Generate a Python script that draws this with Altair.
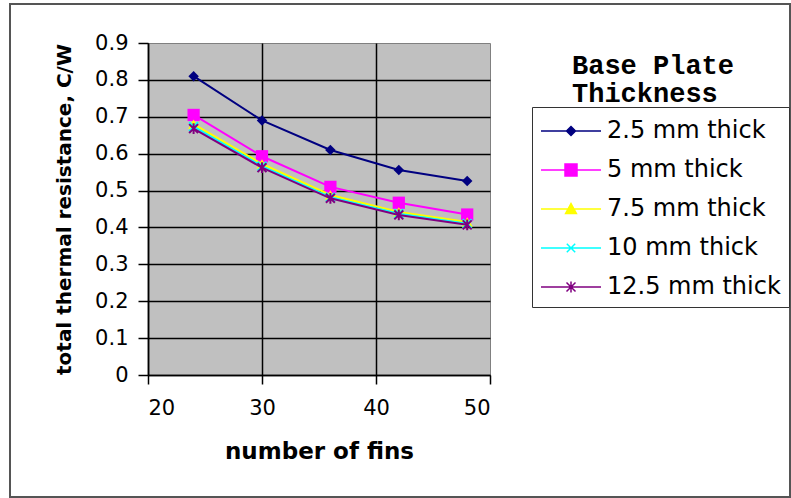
import altair as alt
import pandas as pd

# ---- data ----
fins = [24, 30, 36, 42, 48]
series_names = ["2.5 mm thick", "5 mm thick", "7.5 mm thick", "10 mm thick", "12.5 mm thick"]
r_2_5 = [0.81, 0.69, 0.61, 0.556, 0.526]
r_5 = [0.705, 0.593, 0.51, 0.467, 0.435]
r_7_5 = [0.68, 0.572, 0.488, 0.442, 0.415]
r_10 = [0.673, 0.566, 0.482, 0.437, 0.41]
r_12_5 = [0.668, 0.562, 0.479, 0.434, 0.407]
x_ticks = [20, 30, 40, 50]
y_ticks = [0, 0.1, 0.2, 0.3, 0.4, 0.5, 0.6, 0.7, 0.8, 0.9]

colors = ["#000080", "#FF00FF", "#FFFF00", "#00FFFF", "#800080"]

rows = []
for name, vals in zip(series_names, [r_2_5, r_5, r_7_5, r_10, r_12_5]):
    for f, v in zip(fins, vals):
        rows.append({"series": name, "fins": f, "resistance": v})
df = pd.DataFrame(rows)

# ---- styles ----
FONT = "DejaVu Sans"
x_scale = alt.Scale(domain=[20, 50], nice=False, zero=False)
y_scale = alt.Scale(domain=[0, 0.9], nice=False, zero=False)

x_axis = alt.Axis(
    values=x_ticks, grid=True,
    gridColor={"condition": {"test": "datum.value >= 50", "value": "transparent"}, "value": "black"},
    gridWidth=1.5, gridOpacity=1,
    domainColor="black", domainWidth=1.5,
    tickColor="black", tickWidth=1.5, tickSize=9,
    labelFont=FONT, labelFontSize=21, labelColor="black", labelPadding=13,
    titleFont=FONT, titleFontSize=23, titleFontWeight="bold", titleColor="black",
    titlePadding=22,
)
y_axis = alt.Axis(
    values=y_ticks, grid=True,
    gridColor={"condition": {"test": "datum.value >= 0.85", "value": "transparent"}, "value": "black"},
    gridWidth=1.5, gridOpacity=1,
    domainColor="black", domainWidth=1.5,
    tickColor="black", tickWidth=1.5, tickSize=10,
    labelExpr="datum.value == 0 ? '0' : format(datum.value, '.1f')",
    labelFont=FONT, labelFontSize=21, labelColor="black", labelPadding=10,
    titleFont=FONT, titleFontSize=20, titleFontWeight="bold", titleColor="black",
    titlePadding=20,
)

X = alt.X("fins:Q", scale=x_scale, axis=x_axis, title="number of fins")
Y = alt.Y("resistance:Q", scale=y_scale, axis=y_axis, title="total thermal resistance, C/W")

point_styles = [
    dict(shape="diamond", filled=True, size=110, strokeWidth=0),
    dict(shape="square", filled=True, size=150, strokeWidth=0),
    dict(shape="triangle-up", filled=True, size=120, strokeWidth=0),
    dict(shape="M-1,-1L1,1M-1,1L1,-1", filled=False, size=80, strokeWidth=2),
    dict(shape="M-1,-1L1,1M-1,1L1,-1M0,-1.2L0,1.2", filled=False, size=80, strokeWidth=2),
]

# legend symbols: a 60 px line with the series marker in its middle
legend_shapes = [
    "M-2,0L2,0M0,-0.3L0.3,0L0,0.3L-0.3,0Z",
    "M-2,0L2,0M-0.4,-0.4L0.4,-0.4L0.4,0.4L-0.4,0.4Z",
    "M-2,0L2,0M0,-0.36L0.36,0.3L-0.36,0.3Z",
    "M-2,0L2,0M-0.28,-0.28L0.28,0.28M-0.28,0.28L0.28,-0.28",
    "M-2,0L2,0M-0.3,-0.3L0.3,0.3M-0.3,0.3L0.3,-0.3M0,-0.36L0,0.36",
]

base = alt.Chart(df)

layers = []
# outer frame of the whole chart (decoration)
frame = alt.Chart(pd.DataFrame({"k": [0]})).mark_rect(
    fill="transparent", stroke="#555555", strokeWidth=2, clip=False
).encode(x=alt.value(-138), x2=alt.value(642), y=alt.value(-39), y2=alt.value(454))
layers.append(frame)

for name, col, ps in zip(series_names, colors, point_styles):
    sub = base.transform_filter(alt.datum.series == name)
    layers.append(sub.mark_line(color=col, strokeWidth=2).encode(x=X, y=Y))
    layers.append(sub.mark_point(color=col, opacity=1, **ps).encode(x=X, y=Y))

legend = alt.Legend(
    title=None, orient="none", legendX=384, legendY=64,
    strokeColor="#333333", fillColor="white", padding=8,
    labelFont=FONT, labelFontSize=24, labelColor="black", labelOffset=20, labelLimit=400,
    symbolSize=900, symbolOffset=15, symbolStrokeWidth=1.5, rowPadding=11,
)

# legend-only layer (its marks fall outside the x domain and are clipped)
dummy = base.transform_calculate(fins="datum.fins + 100").mark_point(
    filled=True, size=900, strokeWidth=1.5, clip=True, opacity=1
).encode(
    x=X, y=Y,
    color=alt.Color("series:N", scale=alt.Scale(domain=series_names, range=colors), legend=legend),
    stroke=alt.Stroke("series:N", scale=alt.Scale(domain=series_names, range=colors), legend=legend),
    shape=alt.Shape("series:N", scale=alt.Scale(domain=series_names, range=legend_shapes), legend=legend),
)
layers.append(dummy)

chart = alt.layer(*layers).properties(
    width=342, height=332,
    padding={"left": 9, "top": 3, "right": 0, "bottom": 0},
    background="white",
    title=alt.Title(
        ["Base Plate", "Thickness"], orient="none", anchor="start", frame="group",
        dx=424, dy=10, align="left", baseline="top",
        font="Liberation Mono", fontSize=27, fontWeight="bold", color="black", lineHeight=28,
    ),
).configure_view(fill="#C0C0C0", stroke="#808080", strokeWidth=1)

chart.save("out.html", embed_options={"renderer": "svg", "actions": False})
